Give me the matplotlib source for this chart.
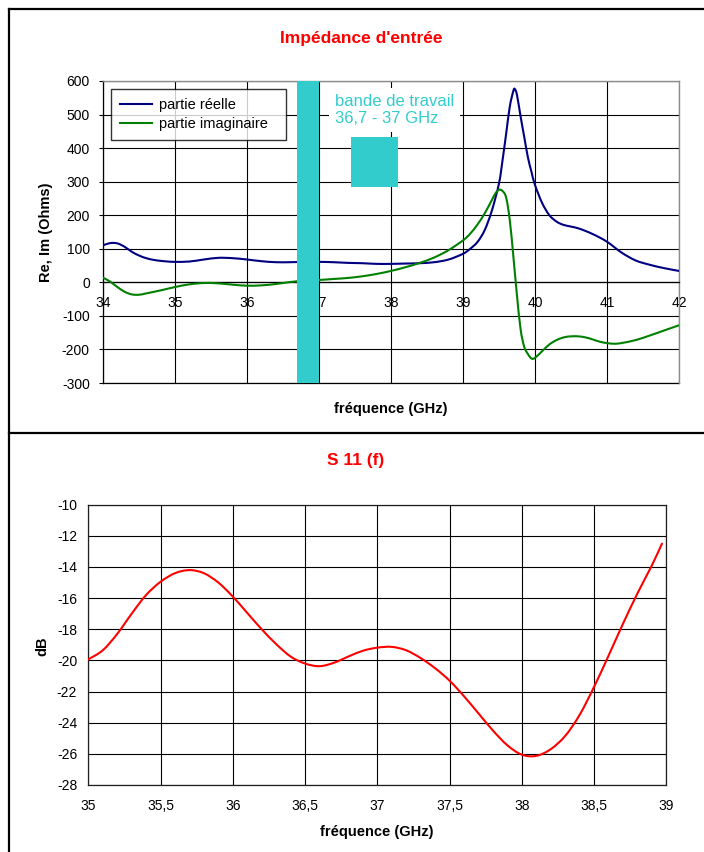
import matplotlib
matplotlib.use("Agg")
import matplotlib.pyplot as plt
from matplotlib.lines import Line2D
from matplotlib.patches import Rectangle, PathPatch
from matplotlib.path import Path

plt.rcParams['font.family'] = ['Liberation Sans', 'DejaVu Sans']
plt.rcParams['axes.unicode_minus'] = False

# ---- Input impedance (real / imaginary parts) ----
freq_re = [34.0, 34.1, 34.2, 34.3, 34.4, 34.5, 34.6, 34.7, 34.8, 34.9, 35.0,
           35.2, 35.4, 35.6, 35.8, 36.0, 36.2, 36.4, 36.6, 36.8, 37.0, 37.2,
           37.4, 37.6, 37.8, 38.0, 38.2, 38.4, 38.6, 38.8, 39.0, 39.1, 39.2,
           39.3, 39.4, 39.5, 39.55, 39.6, 39.65, 39.7, 39.72, 39.75, 39.8,
           39.85, 39.9, 39.95, 40.0, 40.1, 40.2, 40.3, 40.4, 40.6, 40.8, 41.0,
           41.2, 41.4, 41.6, 41.8, 42.0]
re_part = [110, 117, 116, 106, 91, 80, 72, 67, 64, 62, 61,
           62, 68, 73, 72, 68, 63, 60, 60, 61, 61, 60,
           58, 57, 55, 55, 56, 57, 60, 68, 85, 100, 120,
           155, 213, 295, 365, 444, 524, 571, 576, 558, 494,
           434, 374, 330, 290, 236, 200, 181, 171, 161, 144, 121,
           89, 65, 52, 42, 34]

freq_im = [34.0, 34.1, 34.2, 34.3, 34.4, 34.5, 34.6, 34.8, 35.0, 35.2, 35.4,
           35.6, 35.8, 36.0, 36.2, 36.4, 36.6, 36.8, 37.0, 37.2, 37.4, 37.6,
           37.8, 38.0, 38.2, 38.4, 38.6, 38.8, 39.0, 39.1, 39.2, 39.3, 39.4,
           39.45, 39.5, 39.55, 39.6, 39.65, 39.7, 39.75, 39.8, 39.85, 39.9,
           39.95, 40.0, 40.1, 40.2, 40.3, 40.4, 40.5, 40.6, 40.7, 40.8, 40.9,
           41.0, 41.1, 41.2, 41.4, 41.6, 41.8, 42.0]
im_part = [14, 2, -14, -28, -36, -37, -33, -24, -14, -6, -2,
           -3, -7, -10, -9, -5, 1, 5, 7, 10, 13, 18,
           25, 34, 45, 58, 74, 96, 125, 145, 172, 205, 245,
           265, 276, 272, 252, 185, 76, -40, -140, -192, -213,
           -227, -225, -205, -185, -172, -164, -161, -161, -164, -170, -177,
           -181, -183, -181, -172, -158, -143, -128]

band = (36.7, 37.0)   # working band, GHz

# ---- S11 ----
freq_s11 = [35.0, 35.1, 35.2, 35.3, 35.4, 35.5, 35.6, 35.7, 35.8, 35.9, 36.0,
            36.1, 36.2, 36.3, 36.4, 36.5, 36.6, 36.7, 36.8, 36.9, 37.0, 37.1,
            37.2, 37.3, 37.4, 37.5, 37.6, 37.7, 37.8, 37.9, 38.0, 38.1,
            38.2, 38.3, 38.4, 38.5, 38.6, 38.7, 38.8, 38.9, 38.97]
s11_db = [-19.93, -19.35, -18.3, -17.0, -15.8, -14.95, -14.4, -14.2, -14.4, -15.0, -15.9,
          -16.95, -18.0, -18.95, -19.75, -20.2, -20.37, -20.15, -19.75, -19.38, -19.18, -19.13,
          -19.35, -19.85, -20.5, -21.3, -22.3, -23.4, -24.5, -25.45, -26.05, -26.13,
          -25.7, -24.85, -23.5, -21.7, -19.7, -17.65, -15.7, -13.9, -12.5]

x_ticks_top = list(range(34, 43))
y_ticks_top = list(range(-300, 601, 100))
x_ticks_bot = [35, 35.5, 36, 36.5, 37, 37.5, 38, 38.5, 39]
y_ticks_bot = list(range(-28, -9, 2))

NAVY = '#000080'
GREEN = '#008000'
CYAN = '#33CCCC'
RED = '#FF0000'
W, H = 704, 852


def fx(px):
    return px / W


def fy(py):
    return 1 - py / H


def fmt(v):
    return ('%g' % v).replace('.', ',')


def smooth_line(ax, xs, ys, **kw):
    """Draw a smoothed (Catmull-Rom / cubic Bezier) line through the points."""
    pts = list(zip(xs, ys))
    n = len(pts)
    verts = [pts[0]]
    codes = [Path.MOVETO]
    for i in range(n - 1):
        p0 = pts[i - 1] if i > 0 else pts[i]
        p1 = pts[i]
        p2 = pts[i + 1]
        p3 = pts[i + 2] if i + 2 < n else pts[i + 1]
        c1 = (p1[0] + (p2[0] - p0[0]) / 6, p1[1] + (p2[1] - p0[1]) / 6)
        c2 = (p2[0] - (p3[0] - p1[0]) / 6, p2[1] - (p3[1] - p1[1]) / 6)
        verts += [c1, c2, p2]
        codes += [Path.CURVE4] * 3
    patch = PathPatch(Path(verts, codes), fill=False, capstyle='round',
                      joinstyle='round', **kw)
    ax.add_patch(patch)
    return patch


fig = plt.figure(figsize=(W / 100, H / 100), dpi=100)

# ================= top chart =================
ax1 = fig.add_axes([fx(103), fy(383), fx(679) - fx(103), fy(81) - fy(383)])
ax1.set_xlim(34, 42)
ax1.set_ylim(-300, 600)
ax1.set_xticks(x_ticks_top)
ax1.set_xticklabels([fmt(v) for v in x_ticks_top])
ax1.set_yticks(y_ticks_top)
ax1.set_yticklabels([fmt(v) for v in y_ticks_top])
ax1.grid(True, color='black', lw=0.8)
ax1.spines['bottom'].set_position(('data', 0))
ax1.spines['bottom'].set_linewidth(0.9)
ax1.spines['left'].set_linewidth(0.9)
for s in ('top', 'right'):
    ax1.spines[s].set_color('#8c8c8c')
    ax1.spines[s].set_linewidth(1.0)
ax1.axhline(-300, color='black', lw=0.9, clip_on=False)
ax1.tick_params(axis='x', length=0, pad=10, labelsize=10)
ax1.tick_params(axis='y', length=3, width=0.8, pad=6.5, labelsize=10)

smooth_line(ax1, freq_re, re_part, edgecolor=NAVY, lw=1.5, zorder=3)
smooth_line(ax1, freq_im, im_part, edgecolor=GREEN, lw=1.5, zorder=3)

ax1.axvspan(band[0], band[1], color=CYAN, lw=0, zorder=5)
ax1.add_patch(Rectangle((37.44, 284), 0.66, 149, facecolor=CYAN, edgecolor='none', zorder=5))
ax1.text(37.22, 513, 'bande de travail\n%s - %s GHz' % (fmt(band[0]), fmt(band[1])),
         color=CYAN, fontsize=12, va='center', ha='left', linespacing=1.2, zorder=4,
         bbox=dict(facecolor='white', edgecolor='none', pad=4))

handles = [Line2D([], [], color=NAVY, lw=1.5), Line2D([], [], color=GREEN, lw=1.5)]
leg = ax1.legend(handles, ['partie réelle', 'partie imaginaire'],
                 loc='upper left', bbox_to_anchor=(0.0139, 0.9735, 0.304, 0.0), mode='expand',
                 borderaxespad=0, fontsize=10.5, frameon=True, fancybox=False,
                 handlelength=2.2, handletextpad=0.5, labelspacing=0.35, borderpad=0.62)
leg.get_frame().set_edgecolor('black')
leg.get_frame().set_linewidth(1.0)
leg.set_zorder(6)

fig.text(fx(361), fy(38), "Impédance d'entrée", color=RED, fontsize=12.5,
         fontweight='bold', ha='center', va='center')
fig.text(fx(391), fy(409), 'fréquence (GHz)', fontsize=10.5, fontweight='bold',
         ha='center', va='center')
fig.text(fx(46), fy(232), 'Re, Im (Ohms)', fontsize=10.5, fontweight='bold',
         ha='center', va='center', rotation=90)

# ================= bottom chart =================
ax2 = fig.add_axes([fx(88.3), fy(785), fx(666.3) - fx(88.3), fy(504.7) - fy(785)])
ax2.set_xlim(35, 39)
ax2.set_ylim(-28, -10)
ax2.set_xticks(x_ticks_bot)
ax2.set_xticklabels([fmt(v) for v in x_ticks_bot])
ax2.set_yticks(y_ticks_bot)
ax2.set_yticklabels([fmt(v) for v in y_ticks_bot])
ax2.grid(True, color='black', lw=0.8)
for s in ax2.spines.values():
    s.set_color('#202020')
    s.set_linewidth(0.9)
ax2.tick_params(axis='x', length=0, pad=10, labelsize=10)
ax2.tick_params(axis='y', length=0, pad=8, labelsize=10)
smooth_line(ax2, freq_s11, s11_db, edgecolor=RED, lw=1.5, zorder=3)

fig.text(fx(356), fy(461), 'S 11 (f)', color=RED, fontsize=12.5,
         fontweight='bold', ha='center', va='center')
fig.text(fx(377), fy(832), 'fréquence (GHz)', fontsize=10.5, fontweight='bold',
         ha='center', va='center')
fig.text(fx(42.7), fy(646), 'dB', fontsize=10.5, fontweight='bold',
         ha='center', va='center', rotation=90)

# ================= frame lines =================
for (x0, y0, x1, y1) in [(8.5, 9, 704, 9), (8.5, 9, 8.5, 852), (8.5, 432.5, 704, 432.5)]:
    fig.add_artist(Line2D([fx(x0), fx(x1)], [fy(y0), fy(y1)], transform=fig.transFigure,
                          color='black', lw=1.6, solid_capstyle='projecting'))

fig.savefig('out.png', dpi=100)
